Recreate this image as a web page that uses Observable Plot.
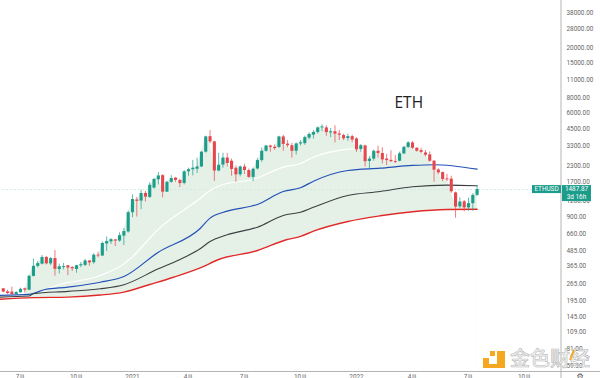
<!DOCTYPE html>
<html><head><meta charset="utf-8">
<script src="https://cdn.jsdelivr.net/npm/d3@7"></script>
<script src="https://cdn.jsdelivr.net/npm/@observablehq/plot@0.6"></script>
<style>html,body{margin:0;padding:0;background:#fff;overflow:hidden}svg{display:block}</style>
</head><body><div id="c"></div>
<script>
const opens=[242,229,228,218,225,242,236,304,365,380,430,382,421,344,358,369,357,345,369,372,403,390,448,441,550,572,592,580,635,685,975,1230,1205,1386,1290,1530,1780,1920,1420,1700,1835,1757,1665,2060,2140,2160,2250,2950,3920,3560,2090,2330,2650,2500,2200,1950,2250,2110,1860,2170,2530,3000,3300,3230,3220,3900,3420,3320,3000,3430,3450,3820,4030,4230,4600,4600,4200,4290,4120,4000,3790,3920,3760,3100,3310,2490,2600,3000,2880,2600,2540,2480,2500,2860,3220,3490,3170,3040,2910,2810,2500,2130,2030,1810,1800,1400,1085,1190,1065,1150,1340];
const closes=[228,222,218,226,240,236,304,365,384,430,382,421,346,362,364,354,349,369,376,403,389,448,441,555,575,595,580,640,690,975,1240,1200,1385,1295,1610,1790,1910,1420,1700,1820,1760,1660,2060,2140,2200,2250,2950,3900,3560,2090,2320,2650,2400,2150,1950,2250,2110,1860,2160,2530,3000,3300,3220,3150,3900,3400,3320,3000,3430,3500,3850,4080,4230,4600,4680,4220,4290,4100,4020,3770,3920,3680,3080,3320,2480,2600,3000,2880,2560,2530,2480,2440,2860,3220,3500,3170,3000,2940,2790,2500,2120,2020,1790,1780,1430,1080,1185,1065,1150,1335,1487];
const highs=[244,236,250,230,245,245,310,417,400,445,437,430,488,380,385,372,364,372,392,415,405,460,472,570,625,605,595,675,730,1000,1350,1290,1470,1440,1680,1830,2040,1960,1730,1920,1860,1800,2100,2200,2540,2640,2970,3950,4380,3600,2890,2890,2880,2600,2290,2290,2360,2170,2200,2620,3180,3340,3350,3370,3950,4020,3650,3470,3490,3650,3950,4200,4380,4670,4870,4780,4550,4780,4400,4100,4100,4030,3850,3400,3350,2720,3060,3290,3200,2830,3030,2780,2950,3280,3570,3580,3200,3170,3040,2960,2530,2180,2050,1970,1900,1420,1280,1220,1270,1380,1600];
const lows=[226,218,215,215,224,225,234,300,355,375,375,370,305,318,342,308,333,322,357,364,366,380,427,438,480,545,525,568,535,670,890,900,1030,1185,1265,1500,1620,1280,1410,1670,1700,1540,1620,1900,1910,2000,2230,2900,3450,1730,2060,2200,2250,1900,1700,1880,1970,1830,1720,2130,2450,2950,2950,3050,3150,3000,3200,2650,2800,3300,3350,3700,3750,4100,4300,3950,3850,3500,3650,3640,3600,3500,2930,2950,2250,2180,2500,2650,2380,2300,2440,2400,2470,2820,3150,3100,2950,2870,2700,2450,1700,1950,1720,1720,1390,880,1050,990,1000,1000,1310];

const redWeeks=[-1,7,15,22.5,28,34,39.5,45.7,50,59,65.7,69,72,80,87.5,95,103,110];
const redValues=[200,206,208,216,228,262,299,355,414,488,594,631,695,830,921,992,1034,1039];
const blackWeeks=[-1,6,7,15,22.5,28,36,40.5,45.7,48,52,59,65,69,72,80,87.5,95,103,110];
const blackValues=[208,212,221,231,242,261,349,406,504,575,651,748,927,984,1078,1336,1437,1566,1613,1595];
const blueWeeks=[-1,6,9.5,15,22.5,28,36,45.7,48,52,59,65,69,72,80,87.5,95,100,110];
const blueValues=[215,219,238,250,273,303,473,730,882,1002,1133,1437,1537,1734,2109,2201,2313,2343,2161];
const whiteWeeks=[9.5,11.7,22.5,28,29,36.5,45.7,48,51,58,65,69,72,80,83];
const whiteValues=[235,253,309,382,406,748,1264,1463,1634,1790,2242,2399,2691,3115,3170];

const priceTicks=[38000,28000,20000,15000,11000,8000,6000,4500,3300,2300,1700,1200,900,660,485,365,265,195,145,109,81,59.5];
const timeTickDates=["2020-07-06","2020-10-05","2021-01-04","2021-04-05","2021-07-05","2021-10-04","2022-01-03","2022-04-04","2022-07-04","2022-10-03"];
const timeTickLabels=["7月","10月","2021","4月","7月","10月","2022","4月","7月","10月"];
const lastPrice=1487.87;
const firstWeek=Date.UTC(2020,5,8);
const green="#1c9c8a", red="#e4474c", lineGray="#b4b4b4", font="Roboto, sans-serif";

const week=i=>new Date(firstWeek+i*7*864e5);
const candles=opens.map((o,i)=>({date:week(i),open:o,close:closes[i],high:highs[i],low:lows[i],color:closes[i]>=o?green:red}));
const series=(ws,vs)=>ws.map((w,i)=>({date:week(w),value:vs[i]}));
const redPts=series(redWeeks,redValues);
const tickDates=timeTickDates.map(d=>new Date(d+"T00:00:00Z"));
const lineMark=(ws,vs,stroke,w)=>Plot.line(series(ws,vs),{x:"date",y:"value",stroke,strokeWidth:w,curve:"monotone-x"});

const chart=Plot.plot({
  width:600,height:378,marginTop:0,marginLeft:0,marginRight:39,marginBottom:6,
  style:{fontFamily:font,background:"#fff",overflow:"hidden"},
  x:{type:"utc",domain:[tickDates[0],tickDates[9]],range:[20,524],axis:null},
  y:{type:"log",domain:[59.5,38000],range:[365,12],axis:null},
  marks:[
    Plot.areaY(candles.slice(5),{x:"date",y1:59.5,y2:"close",fill:"#e5f1e7"}),
    Plot.areaY(redPts,{x:"date",y1:59.5,y2:"value",fill:"#fff",curve:"monotone-x"}),
    Plot.ruleY([lastPrice],{stroke:"#cfe9e4",strokeDasharray:"2,2",strokeWidth:1,x1:week(-2),x2:week(123)}),
    lineMark(whiteWeeks,whiteValues,"#ffffff",1.2),
    lineMark(blueWeeks,blueValues,"#2450b8",1.2),
    lineMark(blackWeeks,blackValues,"#3c3f42",1.1),
    lineMark(redWeeks,redValues,"#e02a2a",1.4),
    Plot.ruleX(candles,{x:"date",y1:"low",y2:"high",stroke:"color",strokeWidth:1,strokeOpacity:0.7}),
    Plot.ruleX(candles,{x:"date",y1:"open",y2:"close",stroke:"color",strokeWidth:3.1}),
    Plot.text(priceTicks,{y:d=>d,text:d3.format(".2f"),frameAnchor:"right",textAnchor:"start",dx:5,fontSize:6.4,fill:"#666"}),
    Plot.text(tickDates,{x:d=>d,text:(d,i)=>timeTickLabels[i],frameAnchor:"bottom",lineAnchor:"top",dy:1.5,fontSize:6.4,fill:"#666"}),
    Plot.text(["ETH"],{frameAnchor:"top-left",dx:394,dy:103,lineAnchor:"middle",fontSize:15.5,fill:"#222",fontFamily:"Open Sans"})
  ]
});
document.getElementById("c").appendChild(chart);

// chart chrome: price axis and time axis lines, last-price badges, watermark
const svg=d3.select(chart);
const yp=chart.scale("y").apply(lastPrice);
svg.append("line").attr("x1",561).attr("x2",561).attr("y1",0).attr("y2",378).attr("stroke",lineGray);
svg.append("line").attr("x1",0).attr("x2",600).attr("y1",371.5).attr("y2",371.5).attr("stroke",lineGray);
svg.append("rect").attr("x",532).attr("y",yp-4).attr("width",29).attr("height",8).attr("fill",green);
svg.append("rect").attr("x",562).attr("y",yp-4).attr("width",29).attr("height",16).attr("fill",green);
const badge=(x,y,t)=>svg.append("text").attr("x",x).attr("y",y).attr("text-anchor","middle").attr("dominant-baseline","central").attr("fill","#fff").attr("font-size",6.4).attr("font-family",font).text(t);
badge(546.5,yp,"ETHUSD");badge(576.5,yp,"1487.87");badge(576.5,yp+8,"3d 16h");
const o="#f5a81f";
[[483,358,6,6],[490,351,5,5],[497,351,8,17],[483,364,22,4]].forEach(r=>svg.append("rect").attr("x",r[0]).attr("y",r[1]).attr("width",r[2]).attr("height",r[3]).attr("fill",o));
svg.append("text").attr("x",510).attr("y",366).attr("text-anchor","start").attr("font-size",20).attr("font-family","Noto Sans CJK SC").attr("font-weight",500).attr("fill","#f0f0f0").attr("fill-opacity",0.85).attr("stroke","#b8b8b8").attr("stroke-width",0.6).text("金色财经");
svg.append("line").attr("x1",574).attr("y1",350).attr("x2",570).attr("y2",360).attr("stroke",o).attr("stroke-width",2);
svg.append("text").attr("x",580).attr("y",379).attr("text-anchor","middle").attr("font-size",8).attr("font-family","DejaVu Sans").attr("fill","#555").text("⚙");
</script></body></html>
